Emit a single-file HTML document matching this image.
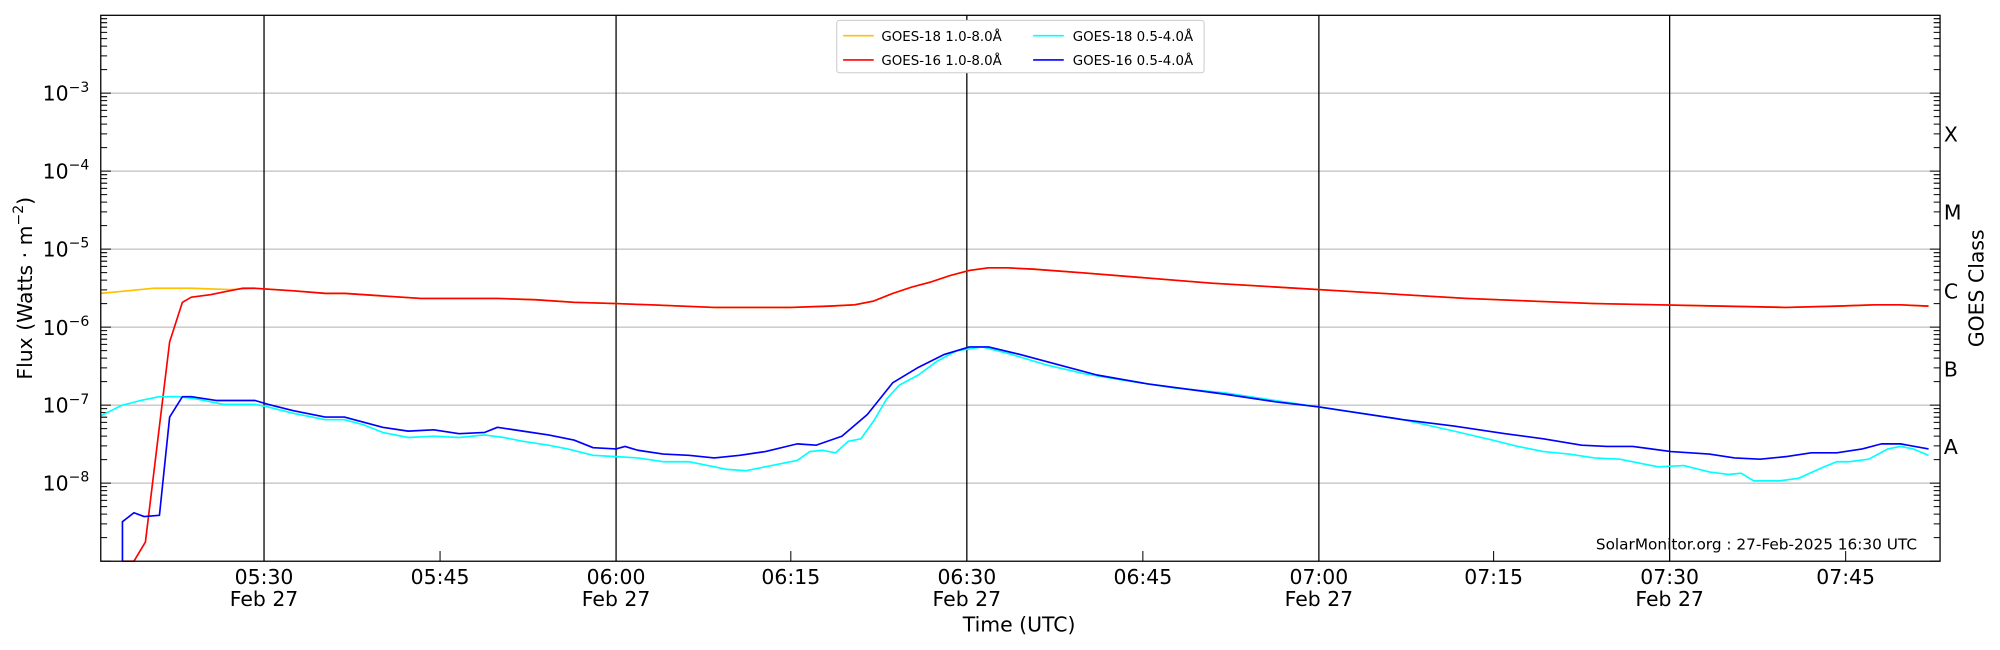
<!DOCTYPE html>
<html><head><meta charset="utf-8"><style>
html,body{margin:0;padding:0;background:#fff;}
svg{display:block;font-family:"DejaVu Sans","Liberation Sans",sans-serif;}
</style></head><body>
<svg width="2000" height="650" viewBox="0 0 1568 509.6" preserveAspectRatio="none" xmlns="http://www.w3.org/2000/svg" xmlns:xlink="http://www.w3.org/1999/xlink">
<defs>
<path id="dec" stroke="#000" stroke-width="0.8" fill="none" d="M79,-18.41h5M79,-29.18h5M79,-36.82h5M79,-42.74h5M79,-47.58h5M79,-51.68h5M79,-55.22h5M79,-58.35h5M1516,-18.41h5M1516,-29.18h5M1516,-36.82h5M1516,-42.74h5M1516,-47.58h5M1516,-51.68h5M1516,-55.22h5M1516,-58.35h5M79,0h8M1513,0h8"/>
</defs>
<rect width="1568" height="510" fill="#fff"/>
<g stroke="#b0b0b0" stroke-width="0.8">
<line x1="79" x2="1521" y1="73" y2="73"/><line x1="79" x2="1521" y1="134.15" y2="134.15"/>
<line x1="79" x2="1521" y1="195.3" y2="195.3"/><line x1="79" x2="1521" y1="256.45" y2="256.45"/>
<line x1="79" x2="1521" y1="317.6" y2="317.6"/><line x1="79" x2="1521" y1="378.75" y2="378.75"/>
</g>
<g stroke="#000" stroke-width="1">
<line x1="207" x2="207" y1="12" y2="440"/><line x1="483" x2="483" y1="12" y2="440"/>
<line x1="758" x2="758" y1="12" y2="440"/><line x1="1034" x2="1034" y1="12" y2="440"/>
<line x1="1309" x2="1309" y1="12" y2="440"/>
</g>
<use xlink:href="#dec" href="#dec" transform="translate(0,73)"/>
<use xlink:href="#dec" href="#dec" transform="translate(0,134.15)"/>
<use xlink:href="#dec" href="#dec" transform="translate(0,195.3)"/>
<use xlink:href="#dec" href="#dec" transform="translate(0,256.45)"/>
<use xlink:href="#dec" href="#dec" transform="translate(0,317.6)"/>
<use xlink:href="#dec" href="#dec" transform="translate(0,378.75)"/>
<use xlink:href="#dec" href="#dec" transform="translate(0,439.9)"/>
<g stroke="#000" stroke-width="0.8">
<line x1="345" x2="345" y1="432" y2="440"/><line x1="620" x2="620" y1="432" y2="440"/>
<line x1="896" x2="896" y1="432" y2="440"/><line x1="1171" x2="1171" y1="432" y2="440"/>
<line x1="1447" x2="1447" y1="432" y2="440"/>
</g>
<g fill="none" stroke-width="1.3" stroke-linejoin="round">
<polyline stroke="#ffc000" points="79,230 100,228 120,226 150,226 180,227 200,226 230,228 255,230 270,230 300,232 330,234 390,234 420,235 450,237 483,238 510,239 560,241 620,241 650,240 670,239 685,236 700,230 715,225 730,221 745,216 760,212 775,210 790,210 810,211 850,214 900,218 950,222 1000,225 1050,228 1100,231 1150,234 1200,236 1250,238 1300,239 1350,240 1400,241 1440,240 1470,239 1490,239 1512,240"/>
<polyline stroke="#ff0000" points="96,440 105,440 114,425 133,268 143,237 150,233 165,231 175,229 190,226 200,226 230,228 255,230 270,230 300,232 330,234 390,234 420,235 450,237 483,238 510,239 560,241 620,241 650,240 670,239 685,236 700,230 715,225 730,221 745,216 760,212 775,210 790,210 810,211 850,214 900,218 950,222 1000,225 1050,228 1100,231 1150,234 1200,236 1250,238 1300,239 1350,240 1400,241 1440,240 1470,239 1490,239 1512,240"/>
<polyline stroke="#00ffff" points="79,326 95,318 110,314 125,311 140,311 155,313 175,317 200,317 210,319 230,324 255,329 270,329 285,333 300,339 320,343 340,342 360,343 380,341 395,343 410,346 430,349 445,352 465,357 483,358 500,359 520,362 540,362 560,366 570,368 585,369 600,366 625,361 635,354 645,353 655,355 665,346 675,344 685,330 695,313 705,302 720,294 735,283 750,275 770,272 790,277 820,286 850,293 880,298 920,304 960,308 1000,314 1034,319 1060,323 1100,329 1140,338 1170,345 1190,350 1210,354 1230,356 1250,359 1270,360 1290,364 1300,366 1320,365 1340,370 1355,372 1365,371 1375,377 1395,377 1410,375 1430,366 1440,362 1450,362 1465,360 1480,352 1490,350 1500,352 1512,357"/>
<polyline stroke="#0000ff" points="96,440 96,409 105,402 113,405 125,404 133,327 143,311 150,311 170,314 200,314 210,317 230,322 255,327 270,327 285,331 300,335 320,338 340,337 360,340 380,339 390,335 410,338 430,341 450,345 465,351 483,352 490,350 500,353 520,356 540,357 560,359 580,357 600,354 625,348 640,349 660,342 680,325 700,300 720,288 740,278 760,272 775,272 800,278 830,286 860,294 900,301 960,309 1000,315 1034,319 1060,323 1100,329 1140,334 1180,340 1210,344 1240,349 1260,350 1280,350 1310,354 1340,356 1360,359 1380,360 1400,358 1420,355 1440,355 1460,352 1475,348 1490,348 1512,352"/>
</g>
<rect x="79" y="12" width="1442" height="428" fill="none" stroke="#000" stroke-width="1"/>
<g font-size="16" text-anchor="end" fill="#000">
<text x="70" y="79">10<tspan font-size="11" dy="-7">−3</tspan></text>
<text x="70" y="140">10<tspan font-size="11" dy="-7">−4</tspan></text>
<text x="70" y="201">10<tspan font-size="11" dy="-7">−5</tspan></text>
<text x="70" y="262.5">10<tspan font-size="11" dy="-7">−6</tspan></text>
<text x="70" y="323.6">10<tspan font-size="11" dy="-7">−7</tspan></text>
<text x="70" y="384.7">10<tspan font-size="11" dy="-7">−8</tspan></text>
</g>
<g font-size="16" text-anchor="middle" fill="#000">
<text x="207" y="458">05:30</text><text x="207" y="475">Feb 27</text>
<text x="345" y="458">05:45</text>
<text x="483" y="458">06:00</text><text x="483" y="475">Feb 27</text>
<text x="620" y="458">06:15</text>
<text x="758" y="458">06:30</text><text x="758" y="475">Feb 27</text>
<text x="896" y="458">06:45</text>
<text x="1034" y="458">07:00</text><text x="1034" y="475">Feb 27</text>
<text x="1171" y="458">07:15</text>
<text x="1309" y="458">07:30</text><text x="1309" y="475">Feb 27</text>
<text x="1447" y="458">07:45</text>
<text x="799" y="495">Time (UTC)</text>
<text transform="translate(25,226) rotate(-90)">Flux (Watts · m<tspan font-size="11" dy="-7">−2</tspan><tspan dy="7">)</tspan></text>
<text transform="translate(1555,226) rotate(-90)">GOES Class</text>
</g>
<g font-size="16" fill="#000">
<text x="1524" y="111">X</text><text x="1524" y="172">M</text><text x="1524" y="234">C</text>
<text x="1524" y="295">B</text><text x="1524" y="356">A</text>
</g>
<text x="1503" y="431" font-size="12" text-anchor="end">SolarMonitor.org : 27-Feb-2025 16:30 UTC</text>
<rect x="656" y="16" width="288" height="41" fill="#fff" stroke="#ccc" stroke-width="0.8" rx="2"/>
<g font-size="10.5" fill="#000">
<line x1="661" x2="685" y1="28" y2="28" stroke="#ffc000" stroke-width="1.3"/><text x="691" y="32">GOES-18 1.0-8.0Å</text>
<line x1="661" x2="685" y1="47" y2="47" stroke="#ff0000" stroke-width="1.3"/><text x="691" y="51">GOES-16 1.0-8.0Å</text>
<line x1="810" x2="834" y1="28" y2="28" stroke="#00ffff" stroke-width="1.3"/><text x="841" y="32">GOES-18 0.5-4.0Å</text>
<line x1="810" x2="834" y1="47" y2="47" stroke="#0000ff" stroke-width="1.3"/><text x="841" y="51">GOES-16 0.5-4.0Å</text>
</g>
</svg>
</body></html>
